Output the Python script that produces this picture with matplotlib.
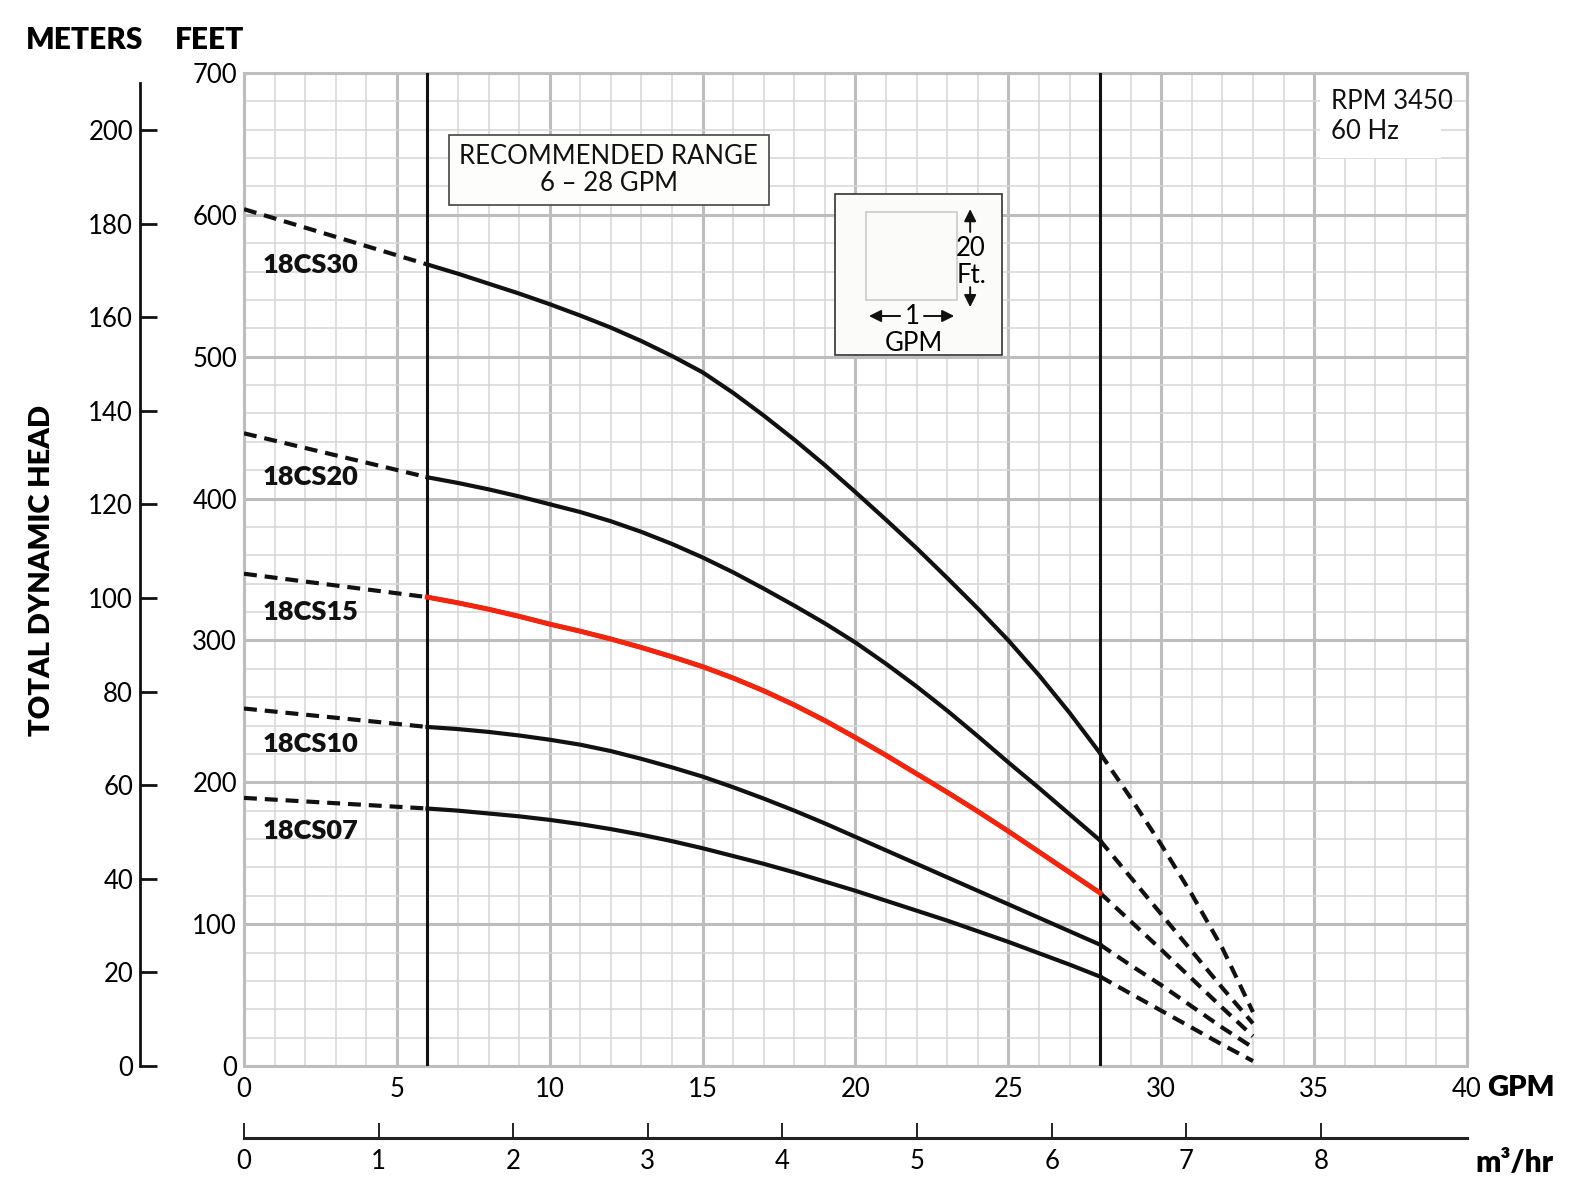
import matplotlib
matplotlib.use('Agg')
import matplotlib.pyplot as plt
from matplotlib.patches import Rectangle
import numpy as np

plt.rcParams['font.family'] = ['Lato', 'DejaVu Sans']

# flow in GPM, head in feet
gpm_low = [0, 6]
gpm_mid = [6, 7, 8, 9, 10, 11, 12, 13, 14, 15, 16, 17, 18, 19, 20, 21, 22, 23, 24, 25, 26, 27, 28]
gpm_high = [28, 29, 30, 31, 32, 33]

models = ['18CS30', '18CS20', '18CS15', '18CS10', '18CS07']

head_low = {
    '18CS30': [604, 565],
    '18CS20': [446, 415],
    '18CS15': [347, 330.5],
    '18CS10': [252, 239],
    '18CS07': [189, 181.5],
}
head_mid = {
    '18CS30': [565, 558.5, 551.5, 544.5, 537, 529, 520.5, 511, 500.5, 489, 474.5, 458.5, 441.5,
               423.5, 404.5, 385, 365, 344, 322.5, 300, 275.5, 249, 220.5],
    '18CS20': [415, 411, 406.5, 401.5, 396, 390.5, 384, 376.5, 368, 358.5, 348, 336.5, 324.5,
               312, 298.5, 283.5, 267.5, 250.5, 232.5, 214, 196, 177.5, 159],
    '18CS15': [330.5, 326.5, 322, 317, 311.5, 306.5, 301, 295, 288.5, 281.5, 273.5, 264.5, 254.5,
               243.5, 231.5, 219, 206, 193, 179.5, 165.5, 151, 136.5, 122],
    '18CS10': [239, 237.5, 235.5, 233, 230, 226.5, 222, 216.5, 210.5, 204, 196.5, 188.5, 180,
               171, 161.5, 152, 142.5, 133, 123.5, 114, 104.5, 95, 85.5],
    '18CS07': [181.5, 180, 178, 176, 173.5, 170.5, 167, 163, 158.5, 153.5, 148, 142.5, 136.5,
               130, 123.5, 116.5, 109.5, 102.5, 95, 87.5, 79.5, 71.5, 63],
}
head_high = {
    '18CS30': [220.5, 189, 156, 121, 83, 38],
    '18CS20': [159, 133, 107, 81, 55, 30],
    '18CS15': [122, 102, 82, 61.5, 41, 21],
    '18CS10': [85.5, 71, 57, 42, 27, 13],
    '18CS07': [63, 51, 39, 27, 15, 3.5],
}
label_y = {'18CS30': 565, '18CS20': 415, '18CS15': 320, '18CS10': 227, '18CS07': 166}

highlight = '18CS15'
rec_range = [6, 28]

gpm_ticks = [0, 5, 10, 15, 20, 25, 30, 35, 40]
feet_ticks = [0, 100, 200, 300, 400, 500, 600, 700]
meter_ticks = [0, 20, 40, 60, 80, 100, 120, 140, 160, 180, 200]
m3hr_ticks = [0, 1, 2, 3, 4, 5, 6, 7, 8]

GPM_PER_M3HR = 4.4029

fig = plt.figure(figsize=(15.84, 12), dpi=100)
L, B = 244 / 1584, (1200 - 1066) / 1200
W, H = (1467 - 244) / 1584, (1066 - 73) / 1200
ax = fig.add_axes([L, B, W, H])

ax.set_xlim(0, 40)
ax.set_ylim(0, 700)
ax.set_xticks(gpm_ticks)
ax.set_xticks(np.arange(0, 41, 1), minor=True)
ax.set_yticks(feet_ticks)
ax.set_yticks(np.arange(0, 701, 20), minor=True)
ax.grid(which='minor', color='#d6d6d6', lw=1.1, zorder=0)
ax.grid(which='major', color='#bdbdbd', lw=2.2, zorder=0)
ax.set_axisbelow(True)
ax.tick_params(which='both', length=0)
ax.tick_params(axis='x', labelsize=18.5, pad=8)
ax.tick_params(axis='y', labelsize=18.5, pad=5)
for s in ax.spines.values():
    s.set_color('#bdbdbd')
    s.set_linewidth(2.2)

# recommended range limits
for xv in rec_range:
    ax.axvline(xv, color='#111111', lw=2.2, zorder=3)

dash = (3.1, 1.9)
for m in models:
    ax.plot(gpm_low, head_low[m], color='#111111', lw=3, dashes=dash, zorder=4)
    ax.plot(gpm_high, head_high[m], color='#111111', lw=3, dashes=dash, zorder=4)
    ax.plot(gpm_mid, head_mid[m], color='#111111', lw=3, zorder=4, solid_joinstyle='round')
    if m == highlight:
        ax.plot(gpm_mid, head_mid[m], color='#f4250e', lw=3.6, zorder=5,
                solid_joinstyle='round')
    ax.text(0.6, label_y[m], m, fontsize=19.5, fontweight='heavy', va='center',
            ha='left', color='#111111', zorder=6)

# recommended range box
ax.add_patch(Rectangle((6.7, 607), 10.47, 49.3, facecolor='#fdfdfb', edgecolor='#444444',
                       lw=1.2, zorder=6))
ax.text(11.93, 631.5, 'RECOMMENDED RANGE\n6 \u2013 28 GPM', ha='center', va='center',
        fontsize=18.5, linespacing=1.1, zorder=7, color='#111111')

# rpm note
ax.add_patch(Rectangle((35.2, 640), 3.95, 59, facecolor='white', edgecolor='none', zorder=2))
ax.text(35.55, 669.5, 'RPM 3450\n60 Hz', ha='left', va='center', fontsize=18.5,
        linespacing=1.25, zorder=7, color='#111111')

# grid scale key
ax.add_patch(Rectangle((19.33, 501.2), 5.46, 113.5, facecolor='#fbfbf9', edgecolor='#333333',
                       lw=1.2, zorder=6))
ax.add_patch(Rectangle((20.34, 540), 2.98, 62, facecolor='none', edgecolor='#cccccc',
                       lw=1.2, zorder=7))
arrow = dict(arrowstyle='-|>', color='#111111', lw=1.4, mutation_scale=18)
ax.annotate('', xy=(23.75, 606), xytext=(23.75, 586), arrowprops=arrow, zorder=8)
ax.annotate('', xy=(23.75, 533), xytext=(23.75, 551), arrowprops=arrow, zorder=8)
ax.text(23.78, 576, '20', ha='center', va='center', fontsize=18.5, zorder=8)
ax.text(23.78, 557.5, 'Ft.', ha='center', va='center', fontsize=18.5, zorder=8)
ax.annotate('', xy=(20.35, 528.7), xytext=(21.55, 528.7), arrowprops=arrow, zorder=8)
ax.annotate('', xy=(23.32, 528.7), xytext=(22.15, 528.7), arrowprops=arrow, zorder=8)
ax.text(21.85, 528.7, '1', ha='center', va='center', fontsize=18.5, zorder=8)
ax.text(21.9, 509.5, 'GPM', ha='center', va='center', fontsize=18.5, zorder=8)

ax.text(40.65, -0.022, 'GPM', transform=ax.get_xaxis_transform(), ha='left', va='center',
        fontsize=21, fontweight='heavy')

# meters axis
axm = fig.add_axes([140 / 1584, B, 0.001, H])
axm.set_ylim(0, 212.2)
axm.set_xticks([])
axm.set_yticks(meter_ticks)
for side in ['top', 'right', 'bottom']:
    axm.spines[side].set_visible(False)
axm.spines['left'].set_bounds(0, 210)
axm.spines['left'].set_linewidth(2)
axm.spines['left'].set_color('#111111')
axm.tick_params(axis='y', direction='in', length=12, width=2, labelsize=18.5, pad=5,
                color='#111111')
axm.patch.set_visible(False)

# m3/hr axis
axq = fig.add_axes([L, (1200 - 1138) / 1200, W, 0.001])
axq.set_xlim(0, 40 / GPM_PER_M3HR)
axq.set_yticks([])
axq.set_xticks(m3hr_ticks)
for side in ['top', 'right', 'left']:
    axq.spines[side].set_visible(False)
axq.spines['bottom'].set_linewidth(2.2)
axq.spines['bottom'].set_color('#222222')
axq.tick_params(axis='x', direction='in', length=11, width=1.4, labelsize=18.5, pad=8,
                color='#222222')
axq.patch.set_visible(False)

fig.text(1514 / 1584, (1200 - 1163) / 1200, 'm\u00b3/hr', ha='center', va='center',
         fontsize=21.5, fontweight='heavy')
fig.text(85 / 1584, (1200 - 40) / 1200, 'METERS', ha='center', va='center',
         fontsize=21.5, fontweight='heavy')
fig.text(210 / 1584, (1200 - 40) / 1200, 'FEET', ha='center', va='center',
         fontsize=21.5, fontweight='heavy')
fig.text(42 / 1584, (1200 - 570) / 1200, 'TOTAL DYNAMIC HEAD', ha='center', va='center',
         rotation=90, fontsize=21, fontweight='heavy')

fig.savefig('out.png', dpi=100)
